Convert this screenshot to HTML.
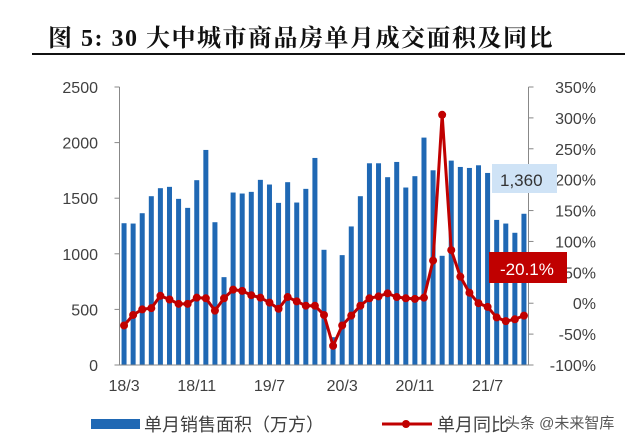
<!DOCTYPE html>
<html><head><meta charset="utf-8"><style>
html,body{margin:0;padding:0;background:#fff;}
body{width:640px;height:438px;overflow:hidden;position:relative;font-family:"Liberation Sans","Noto Sans CJK SC",sans-serif;}
</style></head><body>
<svg id="chart" width="640" height="438" xmlns="http://www.w3.org/2000/svg">
<text x="48" y="46" font-family="'Liberation Serif','Noto Serif CJK SC',serif" font-weight="bold" font-size="24" letter-spacing="1.5" fill="#111">图 5:  30 大中城市商品房单月成交面积及同比</text>
<line x1="32" y1="54" x2="625" y2="54" stroke="#111" stroke-width="2"/>
<g id="g"></g>
</svg>
<script>
const categories = ["18/3","18/4","18/5","18/6","18/7","18/8","18/9","18/10","18/11","18/12","19/1","19/2","19/3","19/4","19/5","19/6","19/7","19/8","19/9","19/10","19/11","19/12","20/1","20/2","20/3","20/4","20/5","20/6","20/7","20/8","20/9","20/10","20/11","20/12","21/1","21/2","21/3","21/4","21/5","21/6","21/7","21/8","21/9","21/10","21/11"];
const areaValues = [1275,1272,1365,1518,1590,1602,1494,1413,1662,1934,1284,790,1551,1542,1557,1665,1623,1458,1644,1461,1584,1862,1036,250,988,1246,1518,1814,1814,1689,1826,1596,1698,2045,1751,982,1838,1781,1772,1796,1727,1305,1272,1189,1360];
const yoyValues = [-36,-19,-10,-8,12,6,-1,-1,9,8,-12,8,22,20,13,9,1,-9,10,3,-4,-4,-19,-69,-36,-20,-4,8,11,16,10,8,7,9,69,305,86,43,17,0,-6,-23,-29,-26,-20.1];
const leftTicks = [0,500,1000,1500,2000,2500];
const rightTicks = [-100,-50,0,50,100,150,200,250,300,350];
const xLabels = ["18/3","18/11","19/7","20/3","20/11","21/7"];

const NS="http://www.w3.org/2000/svg";
const g=document.getElementById('g');
const X0=119.5,X1=528.5,Y0=365,Y1=87;
const step=(X1-X0)/categories.length;
const xc=i=>X0+step*(i+0.5);
const yL=v=>Y0-(v/2500)*(Y0-Y1);
const yR=v=>Y0-((v+100)/450)*(Y0-Y1);
function mk(t,a){const e=document.createElementNS(NS,t);for(const k in a)e.setAttribute(k,a[k]);g.appendChild(e);return e;}

areaValues.forEach((v,i)=>{
  const r=mk('rect',{x:xc(i)-2.5,y:yL(v),width:5,height:Y0-yL(v),fill:'#1f68b4'});
  
  
});
let ax=mk('line',{x1:X0,y1:Y1,x2:X0,y2:Y0,stroke:'#888','stroke-width':1});


ax=mk('line',{x1:X1,y1:Y1,x2:X1,y2:Y0,stroke:'#888','stroke-width':1});


ax=mk('line',{x1:X0,y1:Y0,x2:X1,y2:Y0,stroke:'#888','stroke-width':1});


leftTicks.forEach(v=>{
  mk('line',{x1:X0-5,y1:yL(v),x2:X0,y2:yL(v),stroke:'#888'});
  const t=mk('text',{x:98,y:yL(v)+6,'text-anchor':'end','font-size':16,fill:'#404040'});
  t.textContent=v;
  
  
});
rightTicks.forEach(v=>{
  mk('line',{x1:X1,y1:yR(v),x2:X1+5,y2:yR(v),stroke:'#888'});
  const t=mk('text',{x:596,y:yR(v)+6,'text-anchor':'end','font-size':16,fill:'#404040'});
  t.textContent=v+'%';
  
  
});
xLabels.forEach(l=>{
  const i=categories.indexOf(l);
  const t=mk('text',{x:xc(i),y:391,'text-anchor':'middle','font-size':16,fill:'#404040'});
  t.textContent=l;
  
  
});
const pts=yoyValues.map((v,i)=>xc(i)+','+yR(v)).join(' ');
const pl=mk('polyline',{points:pts,fill:'none',stroke:'#c00000','stroke-width':3,'stroke-linejoin':'round'});


yoyValues.forEach((v,i)=>{
  const c=mk('circle',{cx:xc(i),cy:yR(v),r:4,fill:'#c00000'});
  
  
});
const last=areaValues.length-1;
let b=mk('rect',{x:492,y:164,width:65,height:29,fill:'#cfe3f6'});


let t=mk('text',{x:500,y:186,'font-size':17,fill:'#333'});
t.textContent=areaValues[last].toLocaleString('en-US');


b=mk('rect',{x:489,y:252,width:78,height:31,fill:'#c00000'});


t=mk('text',{x:500,y:275,'font-size':17,fill:'#fff'});
t.textContent=yoyValues[last].toFixed(1)+'%';


b=mk('rect',{x:91,y:419,width:49,height:10,fill:'#1f68b4'});


t=mk('text',{x:144,y:431,'font-size':18,fill:'#404040'});
t.textContent='单月销售面积（万方）';


b=mk('line',{x1:382,y1:424,x2:432,y2:424,stroke:'#c00000','stroke-width':3});


mk('circle',{cx:406,cy:424,r:4,fill:'#c00000'});
t=mk('text',{x:437,y:431,'font-size':18,fill:'#404040'});
t.textContent='单月同比';


t=mk('text',{x:505,y:428,'font-size':15,fill:'#555'});
t.textContent='头条 @未来智库';


</script>
</body></html>
